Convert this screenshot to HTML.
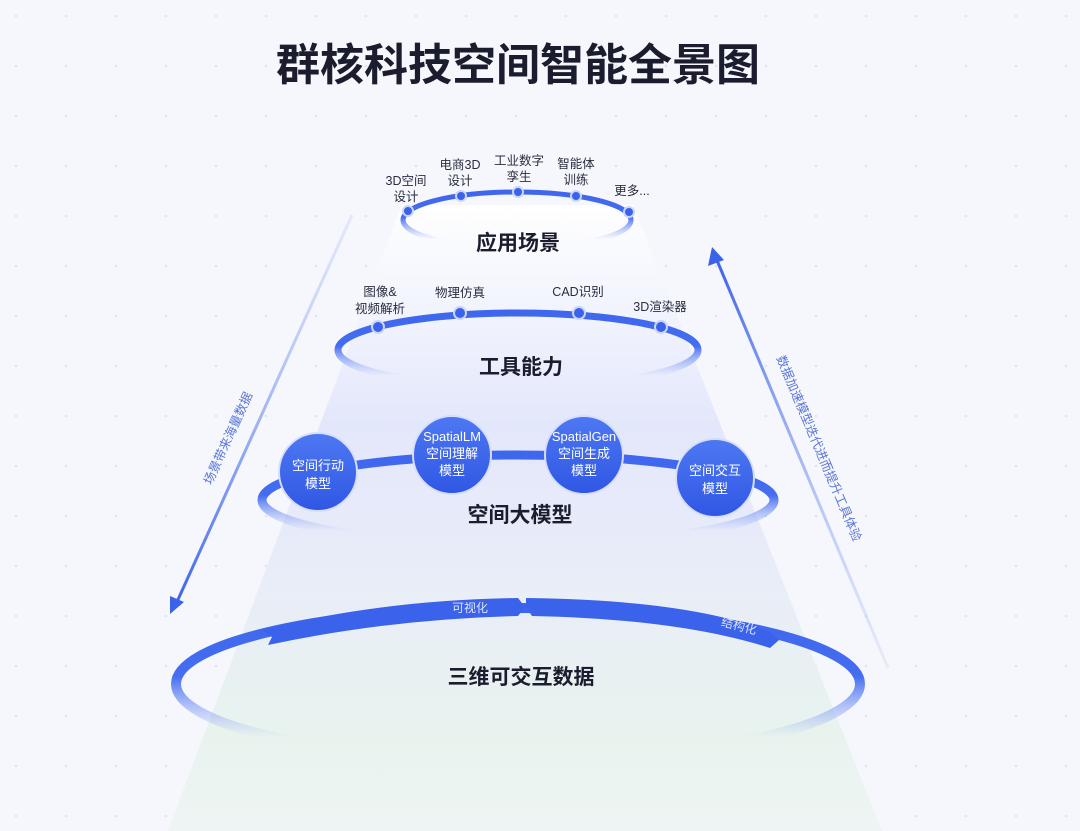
<!DOCTYPE html>
<html><head><meta charset="utf-8"><style>
html,body{margin:0;padding:0;background:#f5f7fc;}
svg{display:block;}
text{font-family:"Liberation Sans","Noto Sans CJK SC",sans-serif;}
</style></head><body>
<svg width="1080" height="831" viewBox="0 0 1080 831" xmlns="http://www.w3.org/2000/svg">
<defs>
<pattern id="dots" width="50" height="50" patternUnits="userSpaceOnUse" x="14" y="14">
<circle cx="2" cy="2" r="1.3" fill="#dfe4ef"/>
</pattern>
<linearGradient id="funnel" x1="0" y1="0" x2="0" y2="1">
<stop offset="0" stop-color="#ffffff" stop-opacity="0.9"/>
<stop offset="0.35" stop-color="#e3e7fb"/>
<stop offset="0.6" stop-color="#e9edf8"/>
<stop offset="0.85" stop-color="#e8f3ee"/>
<stop offset="1" stop-color="#eef4f4"/>
</linearGradient>
<linearGradient id="ring" x1="0" y1="0" x2="0" y2="1">
<stop offset="0" stop-color="#3f67ee"/>
<stop offset="0.45" stop-color="#456df0"/>
<stop offset="0.65" stop-color="#6f8ff3" stop-opacity="0.5"/>
<stop offset="0.85" stop-color="#8aa2f5" stop-opacity="0"/>
</linearGradient>
<linearGradient id="node" x1="0" y1="0" x2="0" y2="1">
<stop offset="0" stop-color="#4e78f2"/>
<stop offset="1" stop-color="#2f57e4"/>
</linearGradient>
<linearGradient id="arrL" x1="0" y1="0" x2="0" y2="1">
<stop offset="0" stop-color="#b9c6f3" stop-opacity="0.3"/>
<stop offset="1" stop-color="#3b63ea"/>
</linearGradient>
<linearGradient id="arrR" x1="0" y1="1" x2="0" y2="0">
<stop offset="0" stop-color="#c5cff3" stop-opacity="0.3"/>
<stop offset="1" stop-color="#3b63ea"/>
</linearGradient>
</defs>
<rect width="1080" height="831" fill="#f5f7fc"/>
<rect width="1080" height="831" fill="url(#dots)"/>
<polygon points="402,205 633,205 882,831 168,831" fill="url(#funnel)"/>

<text x="518" y="80" font-size="44" font-weight="bold" fill="#1b1d2e" text-anchor="middle">群核科技空间智能全景图</text>

<!-- ring 1 -->
<ellipse cx="517" cy="220" rx="114" ry="28" fill="none" stroke="url(#ring)" stroke-width="5"/>
<g fill="#3b62ea" stroke="#c9d5fb" stroke-width="2">
<circle cx="408" cy="211" r="5"/><circle cx="461" cy="196" r="5"/><circle cx="518" cy="192" r="5"/><circle cx="576" cy="196" r="5"/><circle cx="629" cy="212" r="5"/>
</g>
<g font-size="12.5" fill="#2a2d3e" text-anchor="middle">
<text x="406" y="185">3D空间</text><text x="406" y="201">设计</text>
<text x="460" y="169">电商3D</text><text x="460" y="185">设计</text>
<text x="519" y="165">工业数字</text><text x="519" y="181">孪生</text>
<text x="576" y="168">智能体</text><text x="576" y="184">训练</text>
<text x="632" y="195">更多...</text>
</g>
<text x="518" y="250" font-size="21" font-weight="bold" fill="#1b1d2e" text-anchor="middle">应用场景</text>

<!-- ring 2 -->
<ellipse cx="518" cy="350" rx="180" ry="37" fill="none" stroke="url(#ring)" stroke-width="7"/>
<g fill="#3b62ea" stroke="#c9d5fb" stroke-width="2">
<circle cx="378" cy="327" r="6"/><circle cx="460" cy="313" r="6"/><circle cx="579" cy="313" r="6"/><circle cx="661" cy="327" r="6"/>
</g>
<g font-size="12.5" fill="#2a2d3e" text-anchor="middle">
<text x="380" y="296">图像&amp;</text><text x="380" y="313">视频解析</text>
<text x="460" y="297">物理仿真</text>
<text x="578" y="296">CAD识别</text>
<text x="660" y="311">3D渲染器</text>
</g>
<text x="521" y="374" font-size="21" font-weight="bold" fill="#1b1d2e" text-anchor="middle">工具能力</text>

<!-- ring 3 -->
<ellipse cx="518" cy="500" rx="256" ry="45" fill="none" stroke="url(#ring)" stroke-width="9"/>
<g fill="url(#node)" stroke="#d6defc" stroke-width="2">
<circle cx="318" cy="472" r="39"/><circle cx="452" cy="455" r="39"/><circle cx="584" cy="455" r="39"/><circle cx="715" cy="478" r="39"/>
</g>
<g font-size="13" fill="#ffffff" text-anchor="middle">
<text x="318" y="470">空间行动</text><text x="318" y="488">模型</text>
<text x="452" y="441">SpatialLM</text><text x="452" y="458">空间理解</text><text x="452" y="475">模型</text>
<text x="584" y="441">SpatialGen</text><text x="584" y="458">空间生成</text><text x="584" y="475">模型</text>
<text x="715" y="475">空间交互</text><text x="715" y="493">模型</text>
</g>
<text x="520" y="522" font-size="21" font-weight="bold" fill="#1b1d2e" text-anchor="middle">空间大模型</text>

<!-- ring 4 -->
<ellipse cx="518" cy="684" rx="342" ry="76" fill="none" stroke="url(#ring)" stroke-width="10"/>
<path d="M262,630 Q380,600 518,598 L525,607 L518,616 Q390,619 268,645 L272,637 Z" fill="#3a62ea"/>
<path d="M526,598 Q690,600 770,632 L779,640 L770,648 Q680,619 532,616 L526,607 Z" fill="#3a62ea"/>
<text x="470" y="612" font-size="12" fill="#dbe4ff" text-anchor="middle">可视化</text>
<text x="738" y="630" font-size="12" fill="#dbe4ff" text-anchor="middle" transform="rotate(14 738 630)">结构化</text>
<text x="521" y="684" font-size="21" font-weight="bold" fill="#1b1d2e" text-anchor="middle">三维可交互数据</text>

<!-- side arrows -->
<line x1="352" y1="215" x2="176" y2="604" stroke="url(#arrL)" stroke-width="3"/>
<polygon points="170,614 170,596 184,602" fill="#3b63ea"/>
<text x="232" y="440" font-size="12.5" fill="#5b76d8" text-anchor="middle" transform="rotate(-65.6 232 440)">场景带来海量数据</text>
<line x1="888" y1="668" x2="716" y2="258" stroke="url(#arrR)" stroke-width="3"/>
<polygon points="712,247 708,266 724,260" fill="#3b63ea"/>
<text x="815" y="450" font-size="12.5" fill="#5b76d8" text-anchor="middle" transform="rotate(67.2 815 450)">数据加速模型迭代进而提升工具体验</text>
</svg>
</body></html>
